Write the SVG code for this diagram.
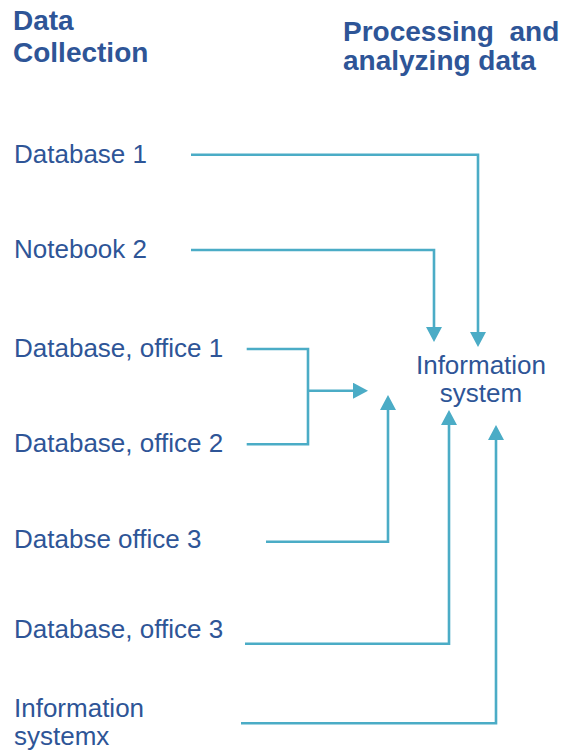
<svg xmlns="http://www.w3.org/2000/svg" width="564" height="751" viewBox="0 0 564 751">
<style>
.t{font-family:"Liberation Sans",Arial,sans-serif;font-size:26px;fill:#2E5597}
.h{font-family:"Liberation Sans",Arial,sans-serif;font-size:28px;font-weight:bold;fill:#2E5597}
.c{fill:none;stroke:#4BACC6;stroke-width:2.6}
</style>
<defs>
<marker id="ah" viewBox="0 0 15 16" refX="6" refY="8" markerWidth="15" markerHeight="16" markerUnits="userSpaceOnUse" orient="auto">
<path d="M0,0 L15,8 L0,16 z" fill="#4BACC6"/>
</marker>
</defs>
<rect width="564" height="751" fill="#fff"/>
<g id="title-left"><text class="h" x="13" y="30">Data</text><text class="h" x="13" y="62">Collection</text></g>
<g id="title-right"><text class="h" x="343" y="41" xml:space="preserve">Processing  and</text><text class="h" x="343" y="70">analyzing data</text></g>
<g id="n-db1"><text class="t" x="14" y="162.5">Database 1</text></g>
<g id="n-nb2"><text class="t" x="14" y="258">Notebook 2</text></g>
<g id="n-dbo1"><text class="t" x="14" y="357">Database, office 1</text></g>
<g id="n-dbo2"><text class="t" x="14" y="452">Database, office 2</text></g>
<g id="n-dbo3a"><text class="t" x="14" y="548">Databse office 3</text></g>
<g id="n-dbo3b"><text class="t" x="14" y="637.5">Database, office 3</text></g>
<g id="n-isx"><text class="t" x="14" y="717">Information</text><text class="t" x="14" y="745">systemx</text></g>
<g id="n-is"><text class="t" x="481" y="374" text-anchor="middle">Information</text><text class="t" x="481" y="402" text-anchor="middle">system</text></g>
<g id="connectors">
<path class="c" d="M191,154.7 H478 V338" marker-end="url(#ah)"/>
<path class="c" d="M191,250 H434 V333" marker-end="url(#ah)"/>
<path class="c" d="M246.7,349 H308 V444.3 H246.7"/>
<path class="c" d="M308,390.7 H359" marker-end="url(#ah)"/>
<path class="c" d="M266,541.7 H388 V404" marker-end="url(#ah)"/>
<path class="c" d="M245,643.7 H449 V419" marker-end="url(#ah)"/>
<path class="c" d="M241,723.3 H496 V434" marker-end="url(#ah)"/>
</g>
</svg>
